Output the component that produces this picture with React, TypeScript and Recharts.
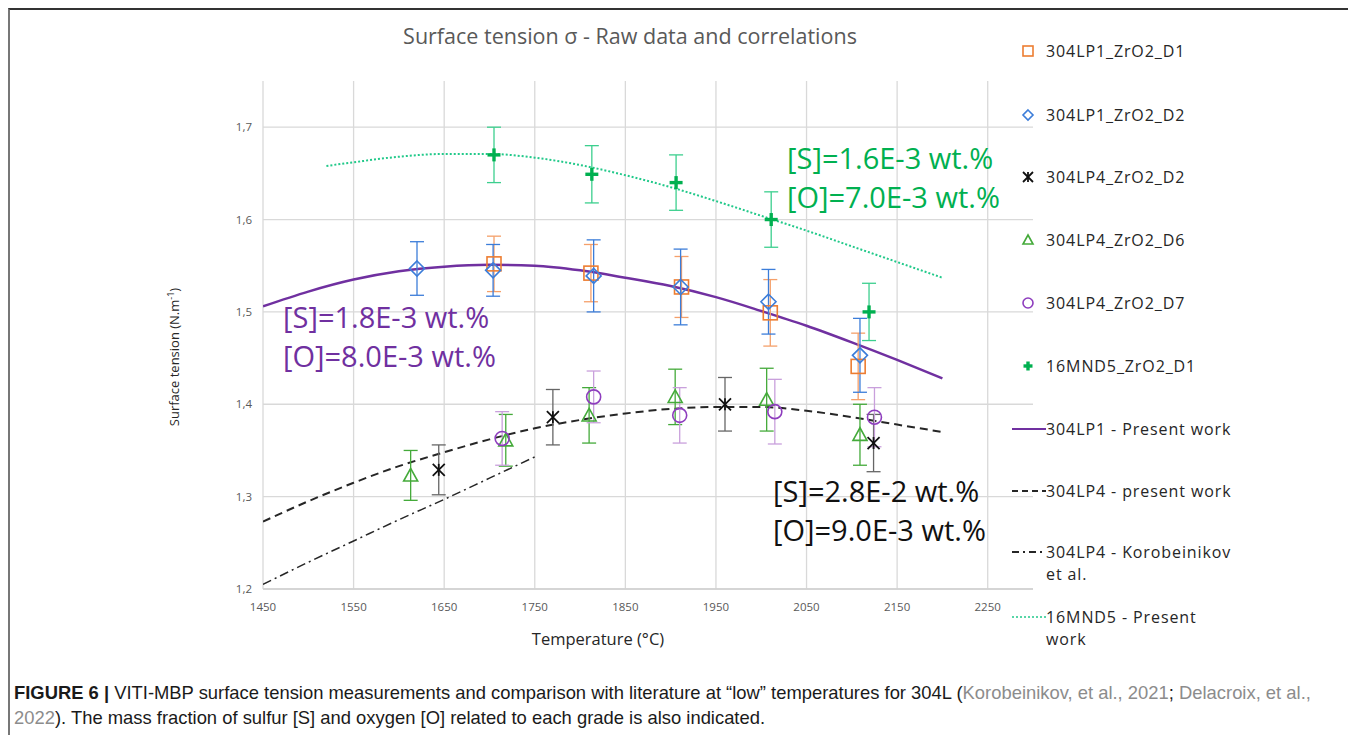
import React from 'react';
import {
  ComposedChart,
  Scatter,
  Line,
  XAxis,
  YAxis,
  CartesianGrid,
  ErrorBar
} from 'recharts';

// axis ticks
const xTicks = [1450, 1550, 1650, 1750, 1850, 1950, 2050, 2150, 2250];
const yTicks = [1.2, 1.3, 1.4, 1.5, 1.6, 1.7];

// raw measurements (temperature °C, surface tension N/m, error)
const lp1d1Temp = [1705, 1812, 1912, 2010, 2107];
const lp1d1Sigma = [1.552, 1.542, 1.527, 1.499, 1.441];
const lp1d1Err = [0.03, 0.031, 0.033, 0.036, 0.036];

const lp1d2Temp = [1620, 1704, 1815, 1911, 2008, 2109];
const lp1d2Sigma = [1.547, 1.545, 1.539, 1.527, 1.511, 1.453];
const lp1d2Err = [0.029, 0.028, 0.039, 0.041, 0.035, 0.04];

const lp4d2Temp = [1644, 1770, 1960, 2124];
const lp4d2Sigma = [1.329, 1.386, 1.4, 1.358];
const lp4d2Err = [0.027, 0.03, 0.029, 0.031];

const lp4d6Temp = [1613, 1718, 1810, 1905, 2006, 2109];
const lp4d6Sigma = [1.323, 1.361, 1.388, 1.408, 1.405, 1.367];
const lp4d6Err = [0.027, 0.028, 0.03, 0.03, 0.034, 0.033];

const lp4d7Temp = [1714, 1815, 1910, 2015, 2125];
const lp4d7Sigma = [1.363, 1.408, 1.388, 1.392, 1.386];
const lp4d7Err = [0.029, 0.028, 0.03, 0.035, 0.032];

const mndTemp = [1705, 1813, 1906, 2011, 2119];
const mndSigma = [1.67, 1.649, 1.64, 1.6, 1.5];
const mndErr = [0.03, 0.031, 0.03, 0.03, 0.031];

// correlations
const fitTemp = [1450, 1500, 1550, 1600, 1650, 1700, 1750, 1800, 1850, 1900, 1950, 2000, 2050, 2100, 2150, 2200];
const lp1Fit = [1.506, 1.522, 1.535, 1.544, 1.549, 1.551, 1.55, 1.545, 1.537, 1.528, 1.516, 1.501, 1.485, 1.467, 1.448, 1.428];
const lp4Fit = [1.273, 1.295, 1.315, 1.333, 1.348, 1.362, 1.374, 1.383, 1.39, 1.395, 1.397, 1.397, 1.393, 1.386, 1.378, 1.37];

const koroTemp = [1450, 1500, 1550, 1600, 1650, 1700, 1750];
const koroFit = [1.205, 1.229, 1.252, 1.275, 1.297, 1.32, 1.343];

const mndFitTemp = [1520, 1550, 1600, 1650, 1700, 1750, 1800, 1850, 1900, 1950, 2000, 2050, 2100, 2150, 2200];
const mndFit = [1.658, 1.662, 1.668, 1.671, 1.671, 1.667, 1.659, 1.648, 1.635, 1.62, 1.604, 1.588, 1.571, 1.554, 1.537];

const pts = (t: number[], s: number[], e: number[]) => t.map((x, i) => ({ x, y: s[i], err: e[i] }));
const curve = (t: number[], s: number[]) => t.map((x, i) => ({ x, y: s[i] }));

const FONT = '"Open Sans", sans-serif';

type Kind = 'square' | 'diamond' | 'star' | 'triangle' | 'circle' | 'plus';

function Marker({ cx, cy, kind, color, size }: { cx: number; cy: number; kind: Kind; color: string; size: number }) {
  const h = size / 2;
  const sw = 1.6;
  if (kind === 'square')
    return <rect x={cx - h} y={cy - h} width={size} height={size} fill="none" stroke={color} strokeWidth={sw} />;
  if (kind === 'diamond')
    return <polygon points={`${cx},${cy - h} ${cx + h},${cy} ${cx},${cy + h} ${cx - h},${cy}`} fill="none" stroke={color} strokeWidth={sw} />;
  if (kind === 'triangle')
    return <polygon points={`${cx},${cy - h} ${cx + h},${cy + h * 0.8} ${cx - h},${cy + h * 0.8}`} fill="none" stroke={color} strokeWidth={sw} />;
  if (kind === 'circle') return <circle cx={cx} cy={cy} r={h} fill="none" stroke={color} strokeWidth={sw} />;
  if (kind === 'plus')
    return (
      <g stroke={color} strokeWidth={3.4}>
        <line x1={cx - h} y1={cy} x2={cx + h} y2={cy} />
        <line x1={cx} y1={cy - h} x2={cx} y2={cy + h} />
      </g>
    );
  // asterisk: X with a vertical stroke
  return (
    <g stroke={color} strokeWidth={1.8}>
      <line x1={cx - h} y1={cy - h} x2={cx + h} y2={cy + h} />
      <line x1={cx - h} y1={cy + h} x2={cx + h} y2={cy - h} />
      <line x1={cx} y1={cy - h} x2={cx} y2={cy + h} />
    </g>
  );
}

const scatterSeries = [
  { name: '304LP1_ZrO2_D1', kind: 'square' as Kind, color: '#ED7D31', errColor: '#F5A06A', size: 14, data: pts(lp1d1Temp, lp1d1Sigma, lp1d1Err) },
  { name: '304LP1_ZrO2_D2', kind: 'diamond' as Kind, color: '#3C7DD9', errColor: '#3C7DD9', size: 15, data: pts(lp1d2Temp, lp1d2Sigma, lp1d2Err) },
  { name: '304LP4_ZrO2_D2', kind: 'star' as Kind, color: '#111111', errColor: '#666666', size: 12, data: pts(lp4d2Temp, lp4d2Sigma, lp4d2Err) },
  { name: '304LP4_ZrO2_D6', kind: 'triangle' as Kind, color: '#44AA3A', errColor: '#44AA3A', size: 14, data: pts(lp4d6Temp, lp4d6Sigma, lp4d6Err) },
  { name: '304LP4_ZrO2_D7', kind: 'circle' as Kind, color: '#8E3DBE', errColor: '#C9A0DC', size: 14, data: pts(lp4d7Temp, lp4d7Sigma, lp4d7Err) },
  { name: '16MND5_ZrO2_D1', kind: 'plus' as Kind, color: '#00B050', errColor: '#3CCF8E', size: 13, data: pts(mndTemp, mndSigma, mndErr) }
];

const lineSeries = [
  { name: '304LP1 - Present work', color: '#7030A0', dash: undefined, legendDash: undefined, width: 2.5, data: curve(fitTemp, lp1Fit) },
  { name: '304LP4 - present work', color: '#262626', dash: '8 5', legendDash: '6 4', width: 2, data: curve(fitTemp, lp4Fit) },
  { name: '304LP4 - Korobeinikov\net al.', color: '#262626', dash: '9 4 2 4', legendDash: '7 4 2 4', width: 1.5, data: curve(koroTemp, koroFit) },
  { name: '16MND5 - Present\nwork', color: '#22C98A', dash: '2 2', legendDash: '2 2', width: 2, data: curve(mndFitTemp, mndFit) }
];

function ChartLegend() {
  const rowTop = [32, 96, 158, 221, 284, 347, 410, 472, 533, 598];
  const rows: React.ReactNode[] = [];
  scatterSeries.forEach((s, i) => {
    rows.push(
      <div key={s.name} style={{ position: 'absolute', left: 0, top: rowTop[i], display: 'flex', alignItems: 'center', height: 18, whiteSpace: 'nowrap' }}>
        <svg width={36} height={18}>
          <Marker cx={18} cy={9} kind={s.kind} color={s.color} size={s.kind === 'plus' ? 9 : 10} />
        </svg>
        <span>{s.name}</span>
      </div>
    );
  });
  lineSeries.forEach((l, j) => {
    const lines = l.name.split('\n');
    rows.push(
      <div key={l.name} style={{ position: 'absolute', left: 0, top: rowTop[6 + j], display: 'flex', alignItems: 'flex-start', whiteSpace: 'nowrap' }}>
        <svg width={36} height={18} style={{ flex: 'none' }}>
          <line x1={2} y1={9} x2={36} y2={9} stroke={l.color} strokeWidth={l.dash === '2 2' ? 1.5 : 2} strokeDasharray={l.legendDash} />
        </svg>
        <div style={{ lineHeight: '22px', marginTop: -2 }}>
          {lines.map((t) => (
            <div key={t}>{t}</div>
          ))}
        </div>
      </div>
    );
  });
  return (
    <div style={{ position: 'absolute', left: 1000, top: 0, width: 260, height: 640, fontFamily: FONT, fontSize: 16, letterSpacing: 0.9, color: '#262626' }}>
      {rows}
    </div>
  );
}

const annoStyle = (color: string): React.CSSProperties => ({
  position: 'absolute',
  fontFamily: FONT,
  fontSize: 29,
  lineHeight: '39px',
  color,
  whiteSpace: 'nowrap'
});

export default function App() {
  return (
    <div
      style={{
        position: 'relative',
        width: 1346,
        height: 727,
        borderTop: '2px solid #333',
        borderLeft: '2px solid #777',
        borderRight: '2px solid #666',
        boxSizing: 'border-box',
        background: '#fff'
      }}
    >
      <div style={{ position: 'absolute', left: -2, top: -2 }}>
        <ComposedChart width={1340} height={640} margin={{ top: 73, right: 315, bottom: 29, left: 175 }}>
          <CartesianGrid stroke="#D9D9D9" strokeWidth={1.3} horizontalValues={yTicks} verticalValues={xTicks} />
          <XAxis
            dataKey="x"
            type="number"
            domain={[1450, 2300]}
            ticks={xTicks}
            allowDataOverflow
            height={30}
            tickLine={false}
            tickSize={0}
            tickMargin={14}
            axisLine={{ stroke: '#D0D0D0', strokeWidth: 1.3 }}
            tick={{ fill: '#595959', fontSize: 11.5, fontFamily: FONT }}
          />
          <YAxis
            dataKey="y"
            type="number"
            domain={[1.2, 1.75]}
            ticks={yTicks}
            allowDataOverflow
            width={80}
            tickLine={false}
            tickSize={0}
            tickMargin={11}
            axisLine={false}
            tickFormatter={(v: number) => v.toFixed(1).replace('.', ',')}
            tick={{ fill: '#595959', fontSize: 11.5, fontFamily: FONT }}
          />
          {lineSeries.map((l) => (
            <Line
              key={l.name}
              data={l.data}
              dataKey="y"
              type="monotone"
              stroke={l.color}
              strokeWidth={l.width}
              strokeDasharray={l.dash}
              dot={false}
              activeDot={false}
              isAnimationActive={false}
            />
          ))}
          {scatterSeries.map((s) => (
            <Scatter
              key={s.name}
              name={s.name}
              data={s.data}
              dataKey="y"
              isAnimationActive={false}
              shape={(p: any) => <Marker cx={p.cx} cy={p.cy} kind={s.kind} color={s.color} size={s.size} />}
            >
              <ErrorBar dataKey="err" direction="y" width={7} stroke={s.errColor} strokeWidth={1.3} />
            </Scatter>
          ))}
        </ComposedChart>
      </div>

      <ChartLegend />

      {/* title and axis titles */}
      <div style={{ position: 'absolute', left: 320, top: 11, width: 600, textAlign: 'center', fontFamily: FONT, fontSize: 21.5, color: '#595959' }}>
        Surface tension σ - Raw data and correlations
      </div>
      <div style={{ position: 'absolute', left: 388, top: 617, width: 400, textAlign: 'center', fontFamily: FONT, fontSize: 16.5, color: '#262626' }}>
        Temperature (°C)
      </div>
      <div
        style={{
          position: 'absolute',
          left: 161 - 100,
          top: 347 - 10,
          width: 200,
          height: 20,
          lineHeight: '20px',
          textAlign: 'center',
          transform: 'rotate(-90deg)',
          fontFamily: FONT,
          fontSize: 13,
          color: '#262626'
        }}
      >
        Surface tension (N.m<sup style={{ fontSize: 9 }}>-1</sup>)
      </div>

      {/* composition notes */}
      <div style={{ ...annoStyle('#00B050'), left: 777, top: 128 }}>
        [S]=1.6E-3 wt.%
        <br />
        [O]=7.0E-3 wt.%
      </div>
      <div style={{ ...annoStyle('#7030A0'), left: 273, top: 287 }}>
        [S]=1.8E-3 wt.%
        <br />
        [O]=8.0E-3 wt.%
      </div>
      <div style={{ ...annoStyle('#111111'), left: 763, top: 461 }}>
        [S]=2.8E-2 wt.%
        <br />
        [O]=9.0E-3 wt.%
      </div>

      {/* caption */}
      <div
        style={{
          position: 'absolute',
          left: 4,
          top: 670,
          width: 1335,
          fontFamily: '"Liberation Sans", Arial, sans-serif',
          fontSize: 18.4,
          lineHeight: '25px',
          color: '#1a1a1a',
          whiteSpace: 'nowrap'
        }}
      >
        <b>FIGURE 6 |</b> VITI-MBP surface tension measurements and comparison with literature at “low” temperatures for 304L (
        <span style={{ color: '#8c8c8c' }}>Korobeinikov, et al., 2021</span>; <span style={{ color: '#8c8c8c' }}>Delacroix, et al.,</span>
        <br />
        <span style={{ color: '#8c8c8c' }}>2022</span>). The mass fraction of sulfur [S] and oxygen [O] related to each grade is also indicated.
      </div>
    </div>
  );
}
